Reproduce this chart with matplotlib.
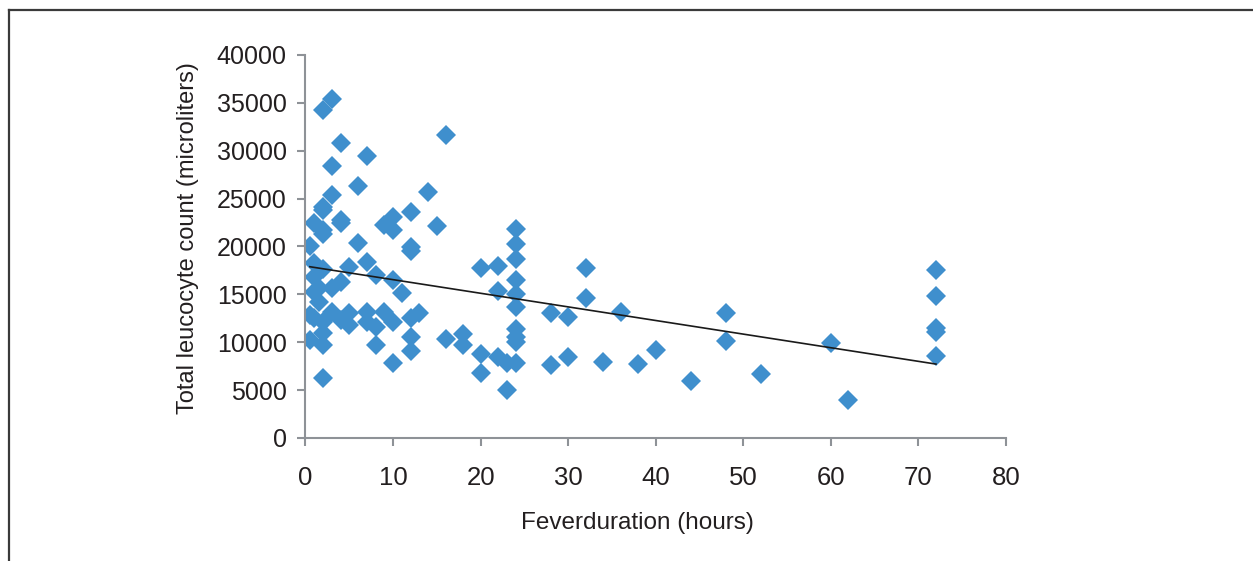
"""
Fever duration vs total leucocyte count scatter with linear trend line
"""

import numpy as np
import matplotlib.pyplot as plt
from matplotlib.lines import Line2D

# fever duration (hours)
fever_hours = [
    0.5, 0.5, 0.5,
    1, 1, 1, 1, 1,
    1.5, 1.5,
    2, 2, 2, 2, 2, 2, 2, 2, 2, 2,
    3, 3, 3, 3, 3,
    4, 4, 4, 4, 4,
    5, 5, 5,
    6, 6,
    7, 7, 7, 7,
    8, 8, 8,
    9, 9,
    10, 10, 10, 10, 10,
    11,
    12, 12, 12, 12, 12, 12,
    13, 14, 15,
    16, 16,
    18, 18,
    20, 20, 20,
    22, 22, 22,
    23, 23,
    24, 24, 24, 24, 24, 24, 24, 24, 24, 24,
    28, 28,
    30, 30,
    32, 32,
    34, 36, 38, 40, 44,
    48, 48,
    52, 60, 62,
    72, 72, 72, 72, 72,
]

# total leucocyte count (per microliter)
leucocytes = [
    20000, 12800, 10200,
    22500, 18300, 16800, 15200, 12500,
    15700, 14200,
    34300, 24100, 23800, 21700, 21300, 17600, 12100, 11000, 9700, 6300,
    35400, 28400, 25400, 15700, 13200,
    30800, 22800, 22500, 16300, 12300,
    17900, 13000, 11800,
    26300, 20400,
    29400, 18400, 13200, 12100,
    17000, 11600, 9700,
    22200, 13200,
    23100, 21700, 16500, 12100, 7800,
    15100,
    23600, 19900, 19500, 12500, 10500, 9100,
    13000, 25700, 22100,
    31600, 10300,
    10900, 9700,
    17800, 8800, 6800,
    18000, 15300, 8500,
    7800, 5000,
    21800, 20300, 18700, 16500, 15000, 13700, 11400, 10500, 10000, 7800,
    13100, 7600,
    12600, 8500,
    17800, 14600,
    7900, 13200, 7700, 9200, 6000,
    13100, 10100,
    6700, 9900, 4000,
    17500, 14800, 11500, 11100, 8600,
]

x_ticks = [0, 10, 20, 30, 40, 50, 60, 70, 80]
y_ticks = [0, 5000, 10000, 15000, 20000, 25000, 30000, 35000, 40000]

plt.rcParams['font.family'] = ['Liberation Sans', 'DejaVu Sans']

fig = plt.figure(figsize=(12.53, 5.61), dpi=100)
ax = fig.add_axes([0.2438, 0.2193, 0.5591, 0.6827])

x = np.array(fever_hours)
y = np.array(leucocytes)
ax.plot(x, y, linestyle='none', marker='D', markersize=10,
        color='#3F8FCD', markeredgewidth=0)

# linear trend line over the observed range
slope, intercept = np.polyfit(x, y, 1)
xs = np.array([x.min(), x.max()])
ax.plot(xs, slope * xs + intercept, color='#1a1a1a', linewidth=1.2)

ax.set_xlim(0, 80)
ax.set_ylim(0, 40000)
ax.set_xticks(x_ticks)
ax.set_yticks(y_ticks)

grey = '#8E9297'
for side in ['top', 'right']:
    ax.spines[side].set_visible(False)
for side in ['left', 'bottom']:
    ax.spines[side].set_color(grey)
    ax.spines[side].set_linewidth(1.5)
ax.tick_params(axis='both', color=grey, width=1.5, length=5.5, labelcolor='#231F20')
ax.tick_params(axis='y', labelsize=18, pad=8)
ax.tick_params(axis='x', labelsize=18.5, pad=15)

fig.text(0.5084, 0.068, 'Feverduration (hours)', ha='center', va='center',
         fontsize=17.5, color='#231F20')
fig.text(0.150, 0.576, 'Total leucocyte count (microliters)', ha='center', va='center',
         rotation=90, fontsize=17, color='#231F20')

# outer frame (left and top edges visible)
fig.add_artist(Line2D([0.0068, 0.0068], [0, 0.983], transform=fig.transFigure,
                      color='#3a3a3a', linewidth=1.6))
fig.add_artist(Line2D([0.0068, 1.0], [0.983, 0.983], transform=fig.transFigure,
                      color='#3a3a3a', linewidth=1.6))

fig.savefig('out.png', dpi=100)
plt.close(fig)
